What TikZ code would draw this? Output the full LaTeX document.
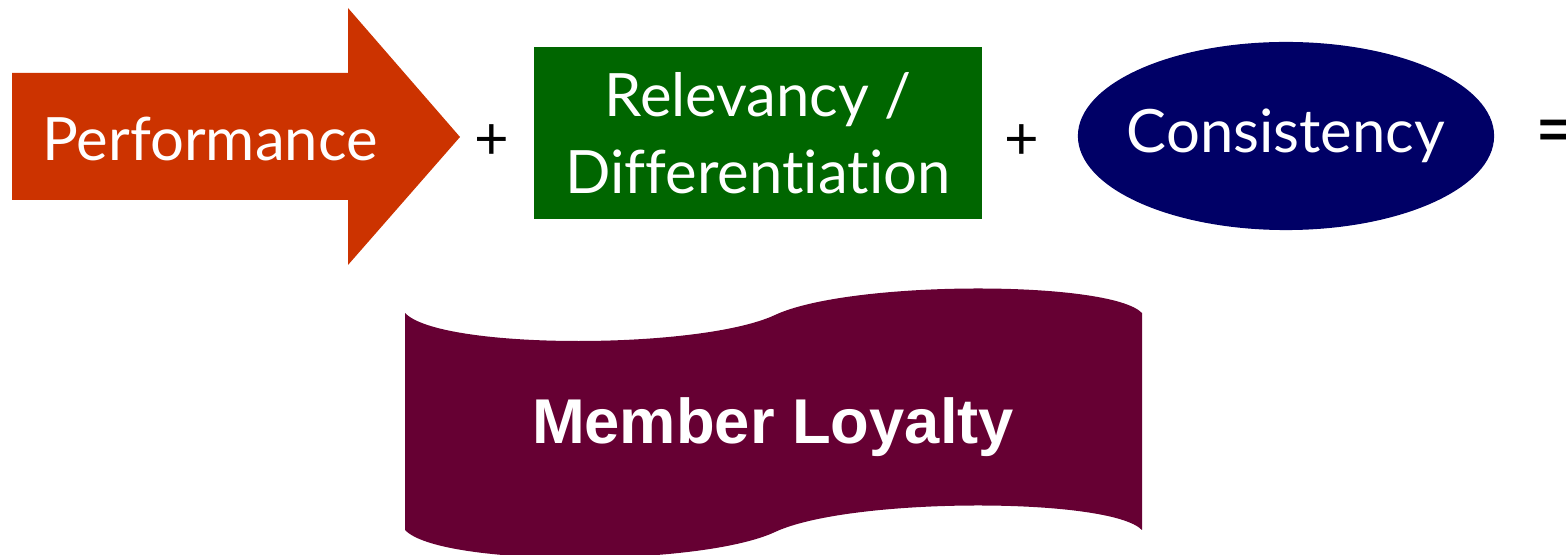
\documentclass[tikz,border=0pt]{standalone}
\usepackage{fontspec}
\setmainfont{Lato}[Ligatures={NoCommon}]
\newfontfamily\bannerfont{Liberation Sans}
\usetikzlibrary{shapes.geometric}
\definecolor{perfRed}{HTML}{CC3300}
\definecolor{relGreen}{HTML}{006600}
\definecolor{consNavy}{HTML}{000066}
\definecolor{loyalPlum}{HTML}{660033}

\begin{document}
\begin{tikzpicture}[
    x=0.01cm, y=-0.01cm,
    term/.style={text=white, font=\fontsize{17}{22}\selectfont, align=center},
    op/.style={font=\fontsize{17}{22}\selectfont, inner sep=0pt},
    greenbox/.style={term, fill=relGreen, minimum width=4.48cm, minimum height=1.72cm, inner sep=0pt},
    navyoval/.style={ellipse, fill=consNavy, minimum width=4.16cm, minimum height=1.88cm, inner sep=0pt}
  ]
    \useasboundingbox (0,0) rectangle (1566,555);
    % block arrow
    \fill[perfRed] (12,73) -- (348,73) -- (348,8) -- (460,137) -- (348,265) -- (348,200) -- (12,200) -- cycle;
    \node[term] (perf) at (210,139) {Performance};
    \node[op] (plus1) at (492,142) {+};
    \node[greenbox] (rel) at (758,133) {Relevancy /\\Differentiation};
    \node[op] (plus2) at (1022,142) {+};
    \node[navyoval] (cons) at (1286,136) {};
    \node[term] (conslabel) at (cons.center) {Consistency};
    \node[op, font=\fontsize{24}{24}\selectfont, anchor=west] (eq) at (1534,139) {=};
    % waving banner
    \fill[loyalPlum] (405,313) .. controls (440,350) and (700,350) .. (775,315)
      .. controls (850,280) and (1110,280) .. (1142,313) -- (1142,530)
      .. controls (1110,497) and (850,497) .. (775,532)
      .. controls (700,567) and (440,567) .. (405,530) -- cycle;
    \node[text=white, font=\bannerfont\bfseries\fontsize{18}{22}\selectfont] (loyal) at (773,427) {Member Loyalty};
  \end{tikzpicture}
\end{document}
